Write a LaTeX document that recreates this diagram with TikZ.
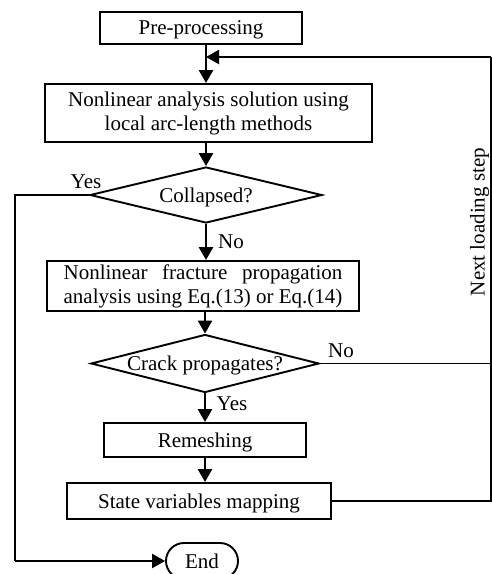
\documentclass[tikz,border=0pt]{standalone}
\usepackage{fontspec}
\setmainfont{Liberation Serif}
\usepackage{calc}
\usetikzlibrary{shapes.geometric,shapes.misc,arrows.meta}
\begin{document}
\begin{tikzpicture}[x=1pt,y=-1pt,
  every node/.style={font=\fontsize{21}{24}\selectfont, inner sep=0pt},
  box/.style={draw, line width=1.9pt, rectangle},
  one/.style={text depth=0pt},
  dia/.style={draw, line width=1.9pt, diamond},
  term/.style={draw, line width=1.9pt, rounded rectangle},
  flow/.style={line width=2.6pt, -{Triangle[length=13pt,width=14pt]}},
  side/.style={line width=1.5pt},
  sidearr/.style={line width=2.2pt, -{Triangle[length=13pt,width=14pt]}},
  lbl/.style={font=\fontsize{21}{24}\selectfont}
]
\useasboundingbox (0,0) rectangle (492,574);
\clip (0,0) rectangle (492,574);

\node[box, one, minimum width=202pt, minimum height=32pt] (pre) at (201,28) {Pre-processing};
\node[box, minimum width=327pt, minimum height=58pt, align=center] (nla) at (208.5,113)
  {Nonlinear analysis solution using\\local arc-length methods};
\node[dia, minimum width=232pt, minimum height=56pt] (col) at (206,195) {};
\node[one] (coltext) at (col) {Collapsed?};
\node[box, minimum width=312pt, minimum height=50pt, align=left] (frac) at (203,286)
  {\makebox[\widthof{analysis using Eq.(13) or Eq.(14)}][l]{Nonlinear\hfill fracture\hfill propagation}\\analysis using Eq.(13) or Eq.(14)};
\node[dia, minimum width=228pt, minimum height=58pt] (crack) at (205,363.5) {};
\node[one] (cracktext) at (crack) {Crack propagates?};
\node[box, one, minimum width=202pt, minimum height=34pt] (rem) at (205,440) {Remeshing};
\node[box, one, minimum width=264pt, minimum height=36pt] (state) at (199,501) {State variables mapping};
\node[term, one, minimum width=72pt, minimum height=36pt] (end) at (202,561) {End};

\node[lbl] (yes1) at (86,182) {Yes};
\node[lbl] (no1) at (231,242) {No};
\node[lbl] (no2) at (341,351) {No};
\node[lbl] (yes2) at (232,404) {Yes};
\node[lbl, rotate=90] (nls) at (479.5,222) {Next loading step};

\coordinate (j) at (206,57);
\coordinate (rt) at (491,57);
\coordinate (rb) at (491,501);
\coordinate (cr) at (491,363.5);
\coordinate (lt) at (15,195);
\coordinate (lb) at (15,561);

\draw[flow] (pre.south -| j) -- (nla.north -| j);
\draw[flow] (nla.south -| col.north) -- (col.north);
\draw[flow] (col.south) -- (frac.north -| col.south);
\draw[flow] (frac.south -| crack.north) -- (crack.north);
\draw[flow] (crack.south) -- (rem.north -| crack.south);
\draw[flow] (rem.south -| crack.south) -- (state.north -| crack.south);

\draw[side] (state.east) -- (rb) -- (rt);
\draw[sidearr] (rt) -- (j);
\draw[side] (crack.east) -- (cr);
\draw[side] (col.west) -- (lt) -- (lb);
\draw[sidearr] (lb) -- (end.west);
\end{tikzpicture}
\end{document}
